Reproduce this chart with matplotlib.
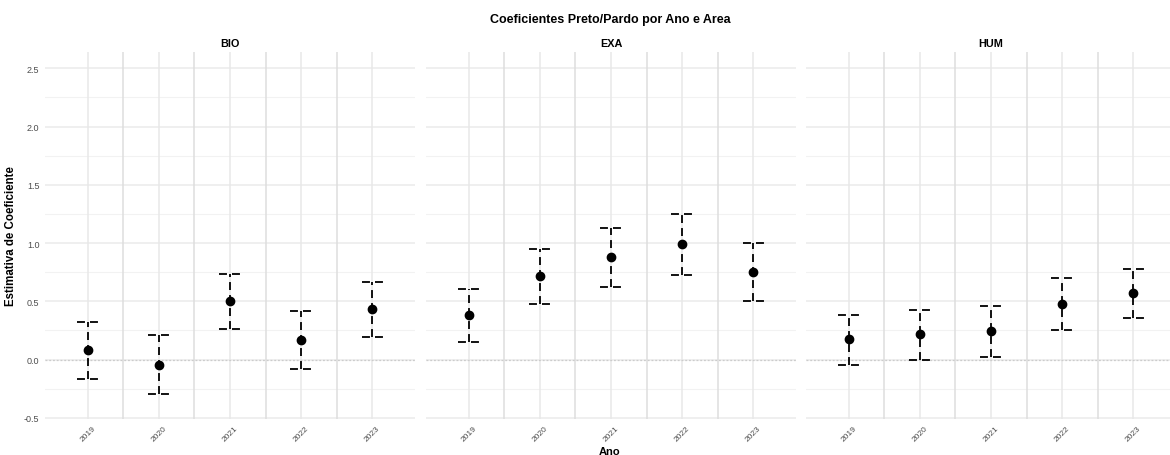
import numpy as np
import matplotlib
matplotlib.use("Agg")
import matplotlib.pyplot as plt

plt.rcParams["font.family"] = ["Liberation Sans", "DejaVu Sans"]

# coefficient estimates with 95% CI, per area and year
anos = ["2019", "2020", "2021", "2022", "2023"]
areas = ["BIO", "EXA", "HUM"]

bio_est = [0.078, -0.043, 0.500, 0.166, 0.431]
bio_low = [-0.167, -0.296, 0.261, -0.080, 0.196]
bio_high = [0.320, 0.213, 0.733, 0.420, 0.664]

exa_est = [0.382, 0.718, 0.877, 0.994, 0.753]
exa_low = [0.155, 0.480, 0.623, 0.730, 0.506]
exa_high = [0.610, 0.945, 1.127, 1.252, 1.003]

hum_est = [0.175, 0.216, 0.244, 0.480, 0.572]
hum_low = [-0.046, 0.000, 0.026, 0.253, 0.356]
hum_high = [0.385, 0.422, 0.457, 0.696, 0.776]

yticks = [-0.5, 0.0, 0.5, 1.0, 1.5, 2.0, 2.5]

dados = {
    "BIO": (bio_est, bio_low, bio_high),
    "EXA": (exa_est, exa_low, exa_high),
    "HUM": (hum_est, hum_low, hum_high),
}

W, H = 1170, 456
fig = plt.figure(figsize=(W / 100, H / 100), dpi=100)
fig.patch.set_facecolor("white")

# panel boxes in pixels (left, right)
panels = [(45, 415), (426, 796), (806, 1176)]
top_px, bottom_px = 53, 420

x = np.arange(len(anos))
dash = (0, (4.4, 2.8))

for i, (area, (l, r)) in enumerate(zip(areas, panels)):
    ax = fig.add_axes([l / W, 1 - bottom_px / H, (r - l) / W, (bottom_px - top_px) / H])
    est, low, high = dados[area]
    ax.set_xlim(-0.6, len(anos) - 0.4)
    ax.set_ylim(-0.51, 2.64)

    # grid
    for yv in np.arange(-0.5, 2.51, 0.5):
        ax.axhline(yv, color="#EBEBEB", lw=1.1, zorder=0)
    for yv in np.arange(-0.25, 2.51, 0.5):
        ax.axhline(yv, color="#F2F2F2", lw=0.8, zorder=0)
    for xv in x:
        ax.axvline(xv, color="#E8E8E8", lw=1.1, zorder=0)
    for xv in x[:-1] + 0.5:
        ax.axvline(xv, color="#DEDEDE", lw=1.1, zorder=0)
    ax.axhline(0, color="#CCCCCC", lw=0.9, ls=(0, (1.5, 1.5)), zorder=1)

    # dashed error bars + points
    ax.vlines(x, low, high, colors="black", lw=1.3, linestyles=dash, zorder=3)
    ax.hlines(high, x - 0.15, x + 0.15, colors="black", lw=1.3, linestyles=dash, zorder=3)
    ax.hlines(low, x - 0.15, x + 0.15, colors="black", lw=1.3, linestyles=dash, zorder=3)
    ax.plot(x, est, "o", color="black", ms=6, zorder=4)

    for s in ax.spines.values():
        s.set_visible(False)
    ax.set_xticks(x)
    ax.set_xticklabels(anos, rotation=45, fontsize=6, color="#4D4D4D")
    ax.tick_params(axis="both", length=0, pad=4)
    ax.set_yticks(yticks)
    if i == 0:
        ax.set_yticklabels([f"{v:.1f}" for v in yticks], fontsize=6.5, color="#4D4D4D")
        ax.set_ylabel("Estimativa de Coeficiente", fontsize=8.3, fontweight="bold",
                      labelpad=5)
    else:
        ax.set_yticklabels([])
    ax.set_title(area, fontsize=7.8, fontweight="bold", pad=4)
    ax.set_facecolor("none")

fig.text(610 / W, 1 - 20 / H, "Coeficientes Preto/Pardo por Ano e Area",
         ha="center", va="center", fontsize=9, fontweight="bold")
fig.text(610 / W, 1 - 452 / H, "Ano", ha="center", va="center",
         fontsize=8, fontweight="bold")

fig.savefig("out.png", dpi=100)
